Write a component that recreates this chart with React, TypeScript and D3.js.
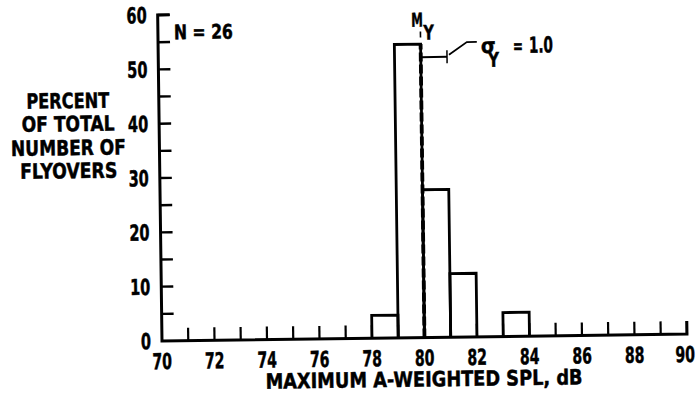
import React from "react";
import * as d3 from "d3";

const binStarts = [78, 79, 80, 81, 83];
const percents = [4.2, 54.0, 27.2, 11.7, 4.4];
const xTickLabels = [70, 72, 74, 76, 78, 80, 82, 84, 86, 88, 90];
const yTickLabels = [0, 10, 20, 30, 40, 50, 60];
const meanValue = 80.0;
const sigmaValue = 1.0;
const sigmaLevel = 51.6;
const yLabelLines = ["PERCENT", "OF TOTAL", "NUMBER OF", "FLYOVERS"];
const yLabelWidths = [83, 93, 115, 97];

const W = 698;
const H = 395;
const FONT = "'DejaVu Sans', 'Liberation Sans', sans-serif";

type TP = {
  x: number;
  y: number;
  size: number;
  w?: number;
  sx?: number;
  anchor?: "start" | "middle" | "end";
  children: React.ReactNode;
};

function T({ x, y, size, w, sx = 1, anchor = "start", children }: TP) {
  const extra = w !== undefined ? { textLength: w, lengthAdjust: "spacingAndGlyphs" } : {};
  return (
    <text
      transform={`translate(${x},${y}) scale(${sx},1)`}
      fontSize={size}
      fontFamily={FONT}
      fontWeight={700}
      fill="#000"
      stroke="#000"
      strokeWidth={0.5}
      textAnchor={anchor}
      {...extra}
    >
      {children}
    </text>
  );
}

export default function App() {
  const x = d3.scaleLinear().domain([70, 90]).range([162, 687]);
  const y = d3.scaleLinear().domain([0, 60]).range([341, 15]);
  const minorX = d3.range(71, 91, 1);
  const minorY = d3.range(5, 61, 5);
  const sw = 2.8;
  const mx = x(meanValue);
  const sx = x(meanValue + sigmaValue);
  const sy = y(sigmaLevel);
  const tall = percents[binStarts.indexOf(79)];

  return (
    <svg width={W} height={H} style={{ position: "absolute", left: 0, top: 0, background: "#fff" }}>
      <g transform={`rotate(-0.76, ${x(70)}, ${y(0)})`}>
        {/* bars */}
        {binStarts.map((b, i) => (
          <path
            key={"bar" + i}
            d={`M${x(b)},${y(0)}V${y(percents[i])}H${x(b + 1)}V${y(0)}`}
            fill="none"
            stroke="#000"
            strokeWidth={sw}
          />
        ))}
        {/* mean line */}
        <line x1={mx} x2={mx} y1={y(0)} y2={y(tall)} stroke="#000" strokeWidth={3.8} strokeDasharray="9,3" />
        <line x1={mx} x2={mx} y1={35} y2={41} stroke="#000" strokeWidth={1.6} />
        {/* sigma bar */}
        <line x1={mx} x2={sx} y1={sy} y2={sy} stroke="#000" strokeWidth={2} />
        <line x1={sx} x2={sx} y1={sy - 6.5} y2={sy + 6.5} stroke="#000" strokeWidth={1.5} />
        <path d={`M${sx + 2},${sy - 2}L${sx + 20},${sy - 14.5}H${sx + 30}`} fill="none" stroke="#000" strokeWidth={1.8} />
        <T x={sx + 34} y={sy - 3.5} size={21} sx={0.9}>σ</T>
        <T x={sx + 41} y={sy + 10.5} size={20} sx={0.75}>Y</T>
        <T x={sx + 66} y={sy - 3} size={20} sx={0.6}>=</T>
        <T x={sx + 82} y={sy - 3} size={22} sx={0.62}>1.0</T>
        <T x={mx - 9} y={30} size={19} sx={0.62}>M</T>
        <T x={mx + 3} y={43} size={20} sx={0.72}>Y</T>
        {/* axes */}
        <path
          d={`M${x(70) + 12},${y(60)}H${x(70)}V${y(0)}H${x(90)}V${y(0) - 13}`}
          fill="none"
          stroke="#000"
          strokeWidth={3}
        />
        {minorY.map((v) => (
          <line key={"yt" + v} x1={x(70)} x2={x(70) + 12} y1={y(v)} y2={y(v)} stroke="#000" strokeWidth={2.4} />
        ))}
        {minorX.map((v) => (
          <line key={"xt" + v} x1={x(v)} x2={x(v)} y1={y(0)} y2={y(0) - 13} stroke="#000" strokeWidth={2.2} />
        ))}
        {yTickLabels.map((v) => (
          <T key={"yl" + v} x={x(70) - 11} y={y(v) + 8} size={22} sx={0.66} anchor="end">
            {v}
          </T>
        ))}
        {xTickLabels.map((v) => (
          <T key={"xl" + v} x={v === 90 ? x(v) - 2 : x(v)} y={369} size={22} sx={0.64} anchor="middle">
            {v}
          </T>
        ))}
        <T x={423.5} y={390} size={21} w={317} anchor="middle">
          MAXIMUM A-WEIGHTED SPL, dB
        </T>
        <T x={178} y={39.5} size={20} w={59}>
          N = 26
        </T>
        {yLabelLines.map((s, i) => (
          <T key={"yll" + i} x={71} y={[107, 130, 154, 177][i]} size={21} w={yLabelWidths[i]} anchor="middle">
            {s}
          </T>
        ))}
      </g>
    </svg>
  );
}
